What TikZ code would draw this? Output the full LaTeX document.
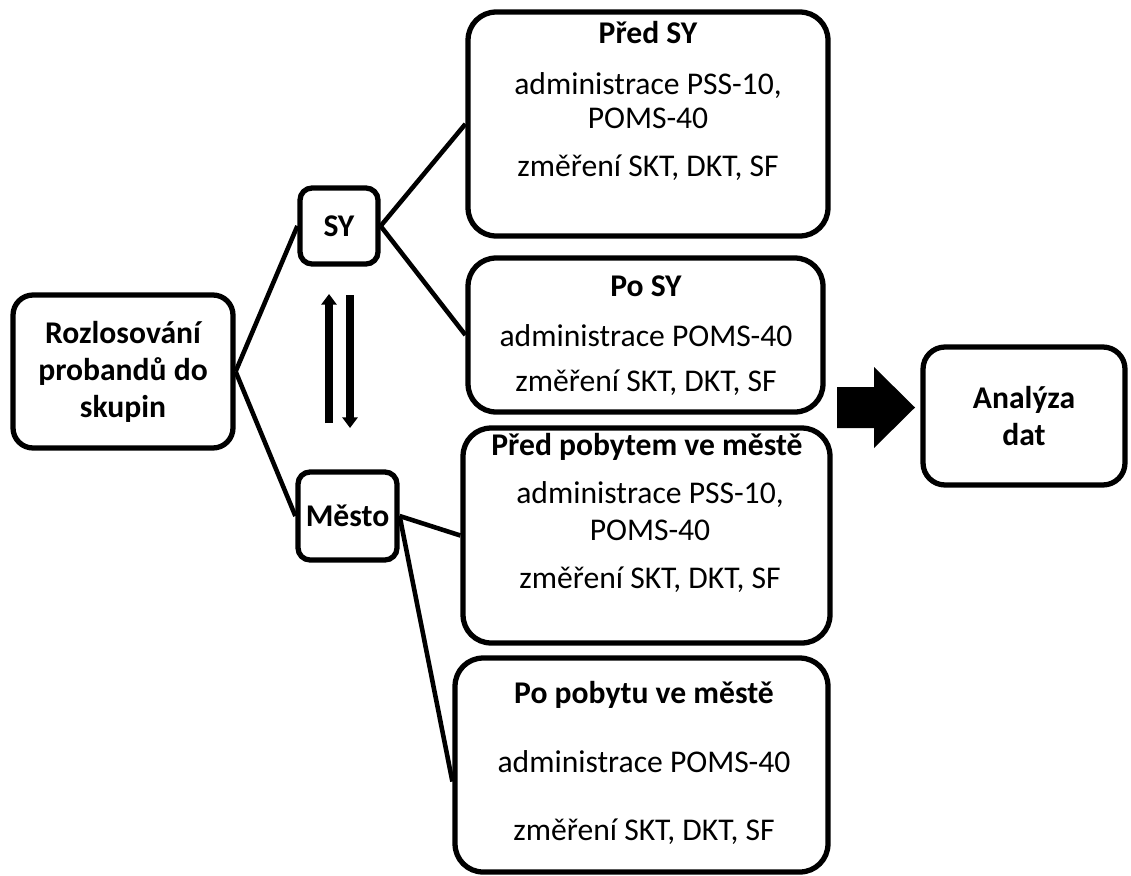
\documentclass[tikz,border=0pt]{standalone}
\usepackage{fontspec}
\setmainfont{Carlito}
\usetikzlibrary{arrows.meta}

\begin{document}
\begin{tikzpicture}[x=0.02cm,y=-0.02cm,
    box/.style={draw,line width=3pt,rounded corners=#1,inner sep=0pt,align=center,
        font=\bfseries\fontsize{18}{21}\selectfont},
    box/.default=0.56cm,
    head/.style={font=\bfseries\fontsize{18}{21}\selectfont},
    txt/.style={font=\fontsize{18}{21}\selectfont},
    link/.style={line width=2.6pt},
    swap/.style={line width=4pt,-{Triangle[width=8.5pt,length=6pt]}}]
    \useasboundingbox (0,0) rectangle (1131,875);

    \node[box=0.4cm,minimum width=4.4cm,minimum height=3.06cm] (los) at (123,371.5)
        {Rozlosování\\probandů do\\skupin};
    \node[box=0.24cm,minimum width=1.56cm,minimum height=1.52cm] (sy) at (339,226) {SY};
    \node[box=0.24cm,minimum width=1.98cm,minimum height=1.76cm] (mesto) at (347.5,516) {Město};

    \node[box,minimum width=7.2cm,minimum height=4.48cm] (predsy) at (648,124) {};
    \node[head] (predsy-t) at (648,33) {Před SY};
    \node[txt] (predsy-a) at (648,86) {administrace PSS-10,};
    \node[txt] (predsy-b) at (648,118) {POMS-40};
    \node[txt] (predsy-c) at (648,168) {změření SKT, DKT, SF};

    \node[box,minimum width=7.1cm,minimum height=3.08cm] (posy) at (645.5,335) {};
    \node[head] (posy-t) at (646,286) {Po SY};
    \node[txt] (posy-a) at (646,336) {administrace POMS-40};
    \node[txt] (posy-c) at (646,383) {změření SKT, DKT, SF};

    \node[box,minimum width=7.34cm,minimum height=4.3cm] (predpob) at (646.5,535.5) {};
    \node[head] (predpob-t) at (647,447) {Před pobytem ve městě};
    \node[txt] (predpob-a) at (650,495) {administrace PSS-10,};
    \node[txt] (predpob-b) at (650,530) {POMS-40};
    \node[txt] (predpob-c) at (650,580) {změření SKT, DKT, SF};

    \node[box,minimum width=7.46cm,minimum height=4.28cm] (popob) at (641.5,765) {};
    \node[head] (popob-t) at (644,695) {Po pobytu ve městě};
    \node[txt] (popob-a) at (644,762) {administrace POMS-40};
    \node[txt] (popob-c) at (644,832) {změření SKT, DKT, SF};

    \node[box=0.44cm,minimum width=4.04cm,minimum height=2.76cm] (analyza) at (1024,416)
        {Analýza\\dat};

    \draw[link] (los.east) -- (sy.west);
    \draw[link] (los.east) -- (mesto.west);
    \draw[link] (sy.east) -- (predsy.west);
    \draw[link] (sy.east) -- (posy.west);
    \draw[link] (mesto.east) -- (predpob.west);
    \draw[link] (mesto.east) -- (popob.185);

    \coordinate (up-a) at (329,423);
    \coordinate (up-b) at (329,294);
    \coordinate (down-a) at (350,295);
    \coordinate (down-b) at (350,428);
    \draw[swap] (up-a) -- (up-b);
    \draw[swap] (down-a) -- (down-b);

    \fill (837,387) -- (874,387) -- (874,367) -- (915,407.5) -- (874,448)
        -- (874,428) -- (837,428) -- cycle;
\end{tikzpicture}
\end{document}
